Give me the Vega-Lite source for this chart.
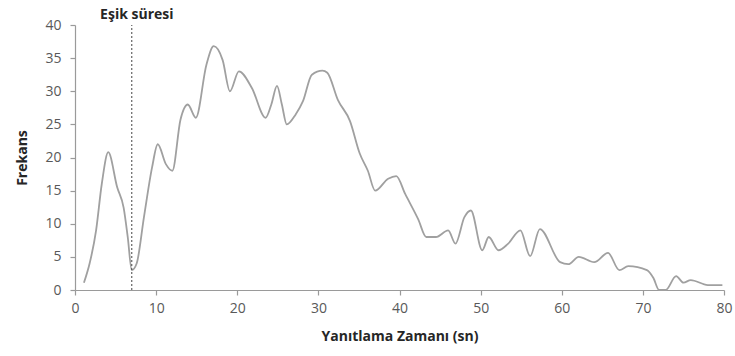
{
  "$schema": "https://vega.github.io/schema/vega-lite/v6.json",
  "autosize": "none",
  "width": 649,
  "height": 265,
  "padding": {"left": 75, "top": 25, "right": 11, "bottom": 66},
  "background": "white",
  "config": {
    "view": {"stroke": null},
    "font": "Open Sans",
    "axis": {"grid": false, "domain": true, "ticks": true, "tickSize": 5, "domainWidth": 1.2, "tickWidth": 1.2, "domainColor": "#9a9a9a", "tickColor": "#9a9a9a", "labelColor": "#595959", "labelFont": "Open Sans", "labelFontSize": 14, "labelFlush": false, "labelOverlap": false, "titleFont": "Open Sans", "titleFontSize": 14, "titleFontWeight": "bold", "titleColor": "#262626"}
  },
  "datasets": {
    "freq": [
      {"t": 1.1, "f": 1.1}, {"t": 1.8, "f": 4}, {"t": 2.6, "f": 9}, {"t": 3.3, "f": 16}, {"t": 4.1, "f": 20.8},
      {"t": 5.2, "f": 15.5}, {"t": 6.0, "f": 12.4}, {"t": 6.5, "f": 8}, {"t": 7.0, "f": 3}, {"t": 7.6, "f": 4},
      {"t": 8.5, "f": 11}, {"t": 9.5, "f": 18.5}, {"t": 10.2, "f": 22}, {"t": 11.2, "f": 19}, {"t": 12.0, "f": 18},
      {"t": 13.0, "f": 25.7}, {"t": 13.9, "f": 28}, {"t": 14.9, "f": 26}, {"t": 16.2, "f": 34}, {"t": 17.1, "f": 36.8},
      {"t": 18.2, "f": 34.7}, {"t": 19.1, "f": 30}, {"t": 20.2, "f": 33}, {"t": 21.8, "f": 30.5}, {"t": 23.5, "f": 26},
      {"t": 24.2, "f": 28}, {"t": 24.9, "f": 30.8}, {"t": 25.5, "f": 28}, {"t": 26.1, "f": 25}, {"t": 27.2, "f": 26.5},
      {"t": 28.1, "f": 28.5}, {"t": 29.2, "f": 32.5}, {"t": 30.5, "f": 33.1}, {"t": 31.1, "f": 32.8}, {"t": 32.4, "f": 28.7},
      {"t": 33.9, "f": 25.5}, {"t": 35.1, "f": 20.6}, {"t": 36.1, "f": 18}, {"t": 37.0, "f": 15}, {"t": 38.6, "f": 16.8},
      {"t": 39.6, "f": 17.2}, {"t": 40.7, "f": 14.5}, {"t": 42.3, "f": 10.7}, {"t": 43.3, "f": 8}, {"t": 44.5, "f": 8},
      {"t": 46.0, "f": 9}, {"t": 46.9, "f": 7}, {"t": 48.0, "f": 11}, {"t": 48.8, "f": 12}, {"t": 50.2, "f": 6},
      {"t": 51.0, "f": 8}, {"t": 52.2, "f": 6}, {"t": 53.4, "f": 7}, {"t": 54.9, "f": 9}, {"t": 56.1, "f": 5.1},
      {"t": 57.3, "f": 9.2}, {"t": 59.8, "f": 4.2}, {"t": 60.8, "f": 3.9}, {"t": 62.1, "f": 5}, {"t": 64.0, "f": 4.2},
      {"t": 65.7, "f": 5.6}, {"t": 67.1, "f": 3}, {"t": 68.2, "f": 3.6}, {"t": 70.5, "f": 3}, {"t": 71.3, "f": 1.8},
      {"t": 72.0, "f": 0}, {"t": 72.8, "f": 0}, {"t": 74.1, "f": 2.1}, {"t": 75.0, "f": 1.1}, {"t": 75.9, "f": 1.5},
      {"t": 78.0, "f": 0.75}, {"t": 79.8, "f": 0.75}
    ],
    "rule": [{"t": 7, "f": 0, "top": 40}],
    "label": [{"t": 7, "f": 40, "label": "Eşik süresi"}]
  },
  "encoding": {
    "x": {"field": "t", "type": "quantitative", "scale": {"domain": [0, 80], "nice": false},
          "axis": {"values": [0, 10, 20, 30, 40, 50, 60, 70, 80], "title": "Yanıtlama Zamanı (sn)", "labelPadding": 6, "titlePadding": 14, "labelFlush": false, "labelOverlap": false, "domain": true, "ticks": true}},
    "y": {"field": "f", "type": "quantitative", "scale": {"domain": [0, 40], "nice": false},
          "axis": {"values": [0, 5, 10, 15, 20, 25, 30, 35, 40], "title": "Frekans", "labelPadding": 9, "titlePadding": 15, "labelFlush": false, "labelOverlap": false, "domain": true, "ticks": true}}
  },
  "layer": [
    {
      "data": {"name": "freq"},
      "mark": {"type": "line", "interpolate": "monotone", "color": "#a0a0a0", "strokeWidth": 1.8}
    },
    {
      "data": {"name": "rule"},
      "mark": {"type": "rule", "color": "#444444", "strokeWidth": 1, "strokeDash": [2, 2]},
      "encoding": {"y2": {"field": "top"}}
    },
    {
      "data": {"name": "label"},
      "mark": {"type": "text", "fontWeight": "bold", "fontSize": 14, "color": "#262626", "align": "center", "baseline": "bottom", "dx": 5, "dy": -3},
      "encoding": {"text": {"field": "label"}}
    }
  ]
}
